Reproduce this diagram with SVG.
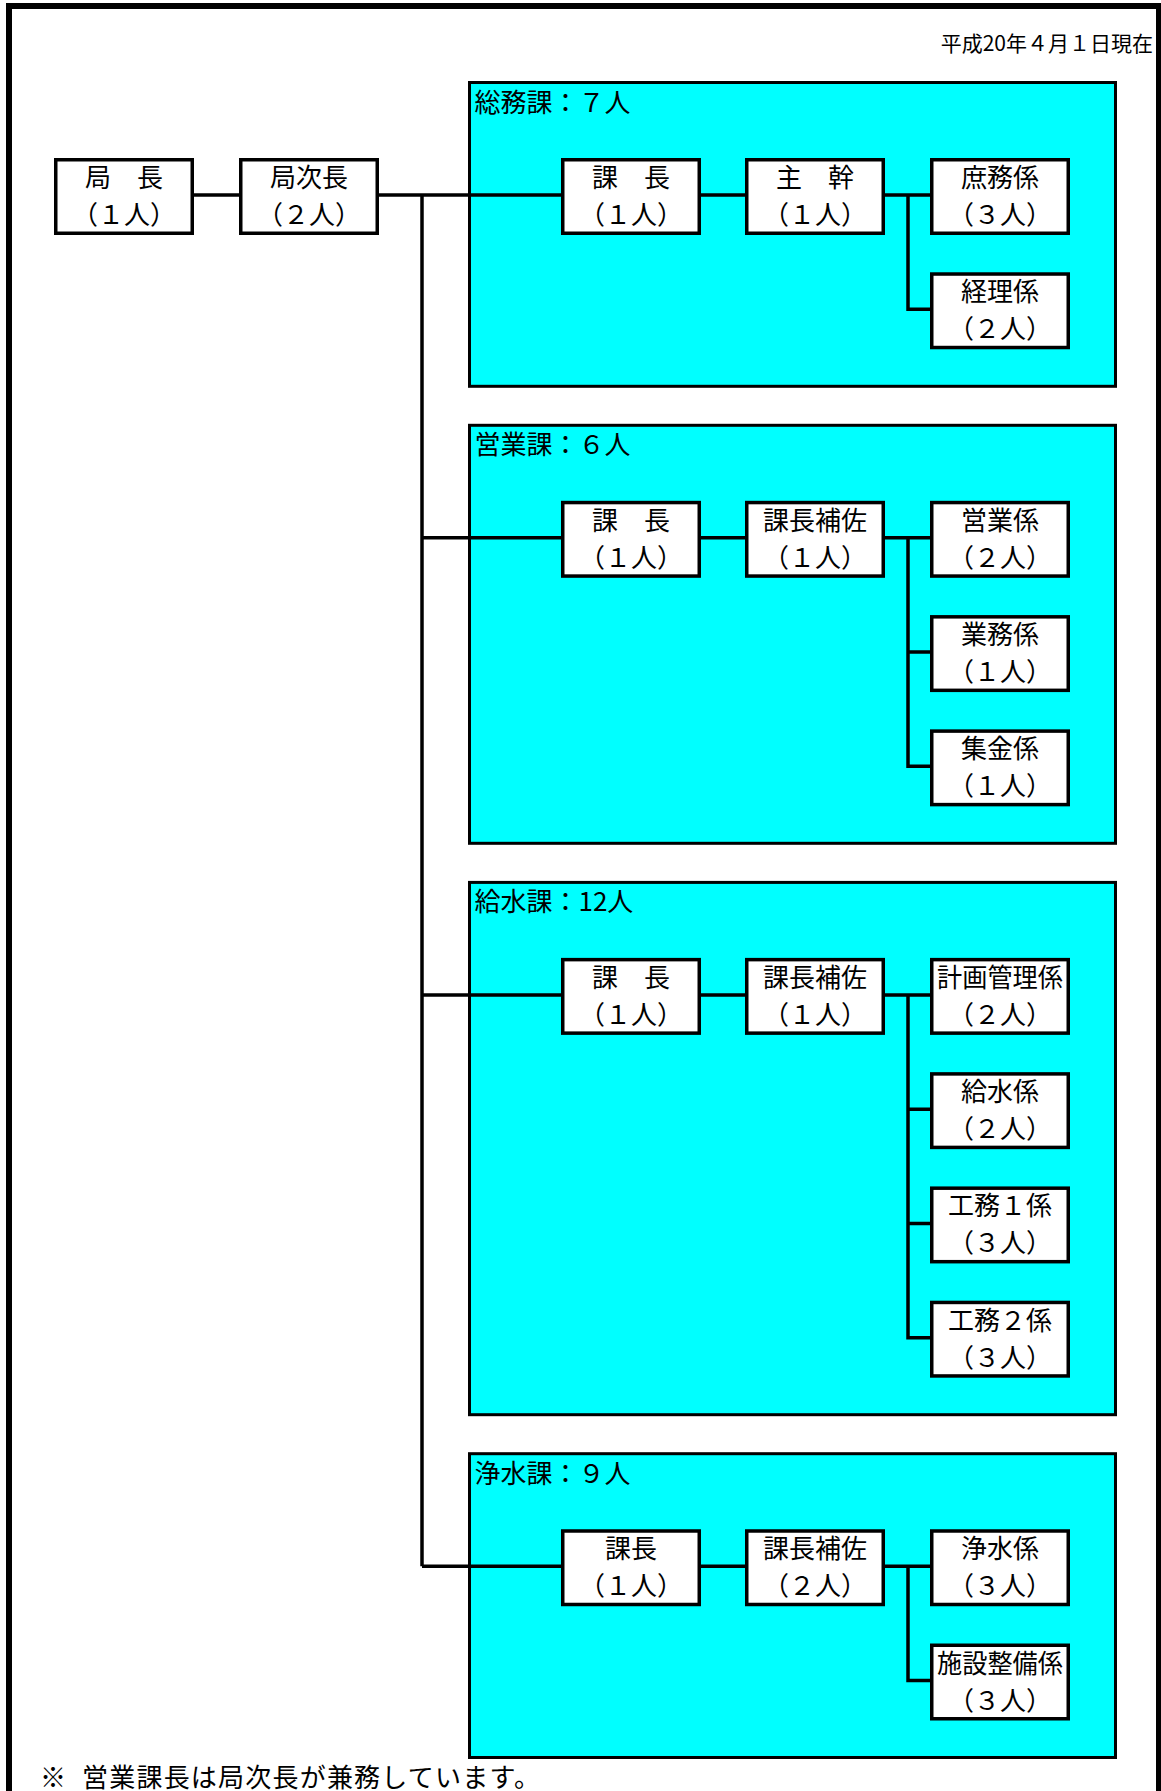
<svg xmlns="http://www.w3.org/2000/svg" width="1161" height="1791" viewBox="0 0 1161 1791">
<style>
text{font-family:"Noto Sans CJK JP","Noto Sans CJK SC",sans-serif;fill:#000}
.border{fill:none;stroke:#000;stroke-width:6}
.sec rect{fill:#00FFFF;stroke:#000;stroke-width:3}
.sec text{font-size:26px}
.node rect{fill:#fff;stroke:#000;stroke-width:3.5}
.node text{font-size:26px;text-anchor:middle}
.conn path{fill:none;stroke:#000;stroke-width:3.5;stroke-linejoin:miter}
.note{font-size:26px}
.date{font-size:21px;text-anchor:end}
</style>
<rect class="border" x="9" y="6" width="1150" height="1820"/>
<text class="date" x="1153" y="51">平成20年４月１日現在</text>

<g id="sec-somu" class="sec"><rect x="469.5" y="82.5" width="646" height="303.8"/><text x="474.5" y="111.5">総務課：７人</text></g>
<g id="sec-eigyo" class="sec"><rect x="469.5" y="425.3" width="646" height="418"/><text x="474.5" y="454.3">営業課：６人</text></g>
<g id="sec-kyusui" class="sec"><rect x="469.5" y="882.4" width="646" height="532.3"/><text x="474.5" y="911.4">給水課：12人</text></g>
<g id="sec-josui" class="sec"><rect x="469.5" y="1453.7" width="646" height="303.8"/><text x="474.5" y="1482.7">浄水課：９人</text></g>

<g id="connectors" class="conn">
<path d="M194 195H239"/>
<path d="M378 195H561"/>
<path d="M422 195V1566.24"/>
<path d="M422 537.81H561M422 994.89H561M422 1566.24H561"/>
<path d="M701 195H745M701 537.81H745M701 994.89H745M701 1566.24H745"/>
<path d="M885 195H930M885 537.81H930M885 994.89H930M885 1566.24H930"/>
<path d="M908 195V309.27H930"/>
<path d="M908 537.81V766.35H930M908 652.08H930"/>
<path d="M908 994.89V1337.7H930M908 1109.16H930M908 1223.43H930"/>
<path d="M908 1566.24V1680.51H930"/>
</g>

<g id="n-kyokucho" class="node"><rect x="55.75" y="159.75" width="136.5" height="73.5"/><text x="124" y="187">局　長</text><text x="124" y="224">（１人）</text></g>
<g id="n-kyokujicho" class="node"><rect x="240.75" y="159.75" width="136.5" height="73.5"/><text x="309" y="187">局次長</text><text x="309" y="224">（２人）</text></g>

<g id="n-somu-kacho" class="node"><rect x="562.75" y="159.75" width="136.5" height="73.5"/><text x="631" y="187">課　長</text><text x="631" y="224">（１人）</text></g>
<g id="n-somu-shukan" class="node"><rect x="746.75" y="159.75" width="136.5" height="73.5"/><text x="815" y="187">主　幹</text><text x="815" y="224">（１人）</text></g>
<g id="n-shomu" class="node"><rect x="931.75" y="159.75" width="136.5" height="73.5"/><text x="1000" y="187">庶務係</text><text x="1000" y="224">（３人）</text></g>
<g id="n-keiri" class="node"><rect x="931.75" y="274.02" width="136.5" height="73.5"/><text x="1000" y="301.27">経理係</text><text x="1000" y="338.27">（２人）</text></g>

<g id="n-eigyo-kacho" class="node"><rect x="562.75" y="502.56" width="136.5" height="73.5"/><text x="631" y="529.81">課　長</text><text x="631" y="566.81">（１人）</text></g>
<g id="n-eigyo-hosa" class="node"><rect x="746.75" y="502.56" width="136.5" height="73.5"/><text x="815" y="529.81">課長補佐</text><text x="815" y="566.81">（１人）</text></g>
<g id="n-eigyokakari" class="node"><rect x="931.75" y="502.56" width="136.5" height="73.5"/><text x="1000" y="529.81">営業係</text><text x="1000" y="566.81">（２人）</text></g>
<g id="n-gyomu" class="node"><rect x="931.75" y="616.83" width="136.5" height="73.5"/><text x="1000" y="644.08">業務係</text><text x="1000" y="681.08">（１人）</text></g>
<g id="n-shukin" class="node"><rect x="931.75" y="731.1" width="136.5" height="73.5"/><text x="1000" y="758.35">集金係</text><text x="1000" y="795.35">（１人）</text></g>

<g id="n-kyusui-kacho" class="node"><rect x="562.75" y="959.64" width="136.5" height="73.5"/><text x="631" y="986.89">課　長</text><text x="631" y="1023.89">（１人）</text></g>
<g id="n-kyusui-hosa" class="node"><rect x="746.75" y="959.64" width="136.5" height="73.5"/><text x="815" y="986.89">課長補佐</text><text x="815" y="1023.89">（１人）</text></g>
<g id="n-keikaku" class="node"><rect x="931.75" y="959.64" width="136.5" height="73.5"/><text x="1000" y="986.89" textLength="126" lengthAdjust="spacingAndGlyphs">計画管理係</text><text x="1000" y="1023.89">（２人）</text></g>
<g id="n-kyusuikakari" class="node"><rect x="931.75" y="1073.91" width="136.5" height="73.5"/><text x="1000" y="1101.16">給水係</text><text x="1000" y="1138.16">（２人）</text></g>
<g id="n-koumu1" class="node"><rect x="931.75" y="1188.18" width="136.5" height="73.5"/><text x="1000" y="1215.43">工務１係</text><text x="1000" y="1252.43">（３人）</text></g>
<g id="n-koumu2" class="node"><rect x="931.75" y="1302.45" width="136.5" height="73.5"/><text x="1000" y="1329.7">工務２係</text><text x="1000" y="1366.7">（３人）</text></g>

<g id="n-josui-kacho" class="node"><rect x="562.75" y="1530.99" width="136.5" height="73.5"/><text x="631" y="1558.24">課長</text><text x="631" y="1595.24">（１人）</text></g>
<g id="n-josui-hosa" class="node"><rect x="746.75" y="1530.99" width="136.5" height="73.5"/><text x="815" y="1558.24">課長補佐</text><text x="815" y="1595.24">（２人）</text></g>
<g id="n-josuikakari" class="node"><rect x="931.75" y="1530.99" width="136.5" height="73.5"/><text x="1000" y="1558.24">浄水係</text><text x="1000" y="1595.24">（３人）</text></g>
<g id="n-shisetsu" class="node"><rect x="931.75" y="1645.26" width="136.5" height="73.5"/><text x="1000" y="1672.51" textLength="126" lengthAdjust="spacingAndGlyphs">施設整備係</text><text x="1000" y="1709.51">（３人）</text></g>

<text class="note" x="40" y="1787">※</text>
<text class="note" x="82" y="1787" textLength="458" lengthAdjust="spacing">営業課長は局次長が兼務しています。</text>
</svg>
